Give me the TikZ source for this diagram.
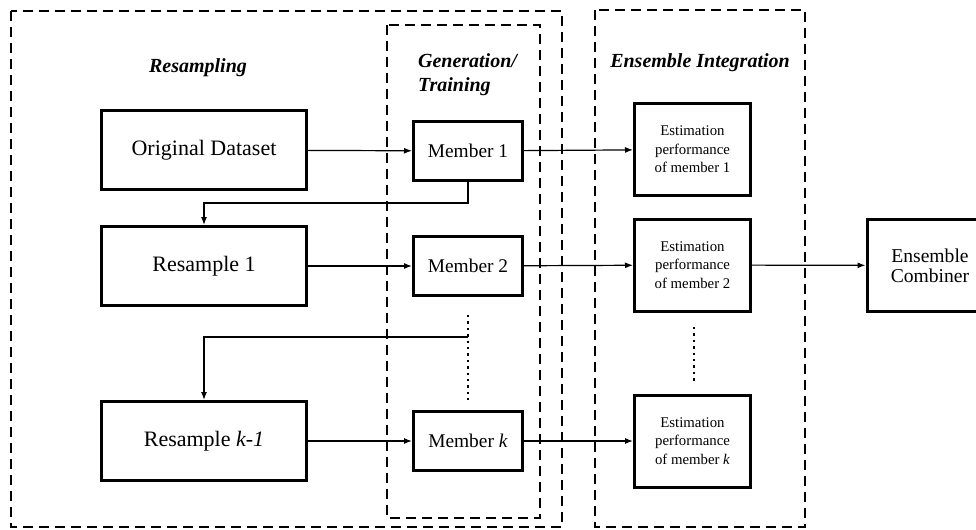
\documentclass[tikz,border=0pt]{standalone}
\usepackage{fontspec}
\setmainfont{Liberation Serif}
\usetikzlibrary{arrows.meta,positioning}

\begin{document}
\begin{tikzpicture}[
  x=0.5pt, y=-0.5pt,
  bigbox/.style={rectangle, draw, line width=1.5pt, minimum width=102.5pt, minimum height=39.5pt, inner sep=0pt, font=\fontsize{11}{13}\selectfont},
  membox/.style={rectangle, draw, line width=1.5pt, minimum width=54.5pt, minimum height=29.5pt, inner sep=0pt, font=\fontsize{9.7}{11}\selectfont},
  estbox/.style={rectangle, draw, line width=1.5pt, minimum width=58pt, minimum height=46pt, inner sep=0pt, align=center, font=\fontsize{7.4}{9.2}\selectfont},
  group/.style={draw, line width=0.6pt, dash pattern=on 5pt off 3pt},
  title/.style={font=\fontsize{10}{12}\selectfont\bfseries\itshape},
  link/.style={-{Latex[length=4pt,width=3pt]}, line width=0.6pt}
]
\useasboundingbox (0,0) rectangle (976,530);

% Dashed groups
\draw[group] (11,11) rectangle (562,527);
\draw[group] (387,25) rectangle (540,518);
\draw[group] (595,10) rectangle (805,527);

% Titles
\node[title] (tres) at (198,68) {Resampling};
\node[title, align=left, anchor=west] (tgen) at (411,75) {Generation/\\Training};
\node[title] (tens) at (700,63) {Ensemble Integration};

% Resampling
\node[bigbox] (orig) at (204,150) {Original Dataset};
\node[bigbox] (res1) at (204,266) {Resample 1};
\node[bigbox] (resk) at (204,441) {Resample \textit{k-1}};

% Members
\node[membox] (mem1) at (468,151) {Member 1};
\node[membox] (mem2) at (468,266) {Member 2};
\node[membox] (memk) at (468,441) {Member \textit{k}};

% Estimation
\node[estbox] (est1) at (692.5,149.5) {Estimation\\performance\\of member 1};
\node[estbox] (est2) at (692.5,265) {Estimation\\performance\\of member 2};
\node[estbox] (estk) at (692.5,441) {Estimation\\performance\\of member \textit{k}};

% Combiner
\node[estbox, minimum width=72pt, font=\fontsize{9.8}{9.8}\selectfont] (comb) at (939,265.5) {};
\node[align=center, inner sep=0pt, font=\fontsize{9.8}{9.8}\selectfont] (tcomb) at (930,265.5) {Ensemble\\Combiner};

% Dotted gaps
\draw[dotted, line width=1.2pt] (468,315) -- (468,400);
\draw[dotted, line width=1.2pt] (694,327) -- (694,382);
\coordinate (split) at (468,337);

% Arrows
\draw[link] (orig) -- (mem1);
\draw[link] (res1) -- (mem2);
\draw[link] (resk) -- (memk);
\draw[link] (mem1) -- (est1);
\draw[link] (mem2) -- (est2);
\draw[link] (memk) -- (estk);
\draw[link] (est2) -- (comb);
\draw[link] (mem1.south) -- ++(0,21) -| (res1.north);
\draw[link] (split) -| (resk.north);

\end{tikzpicture}
\end{document}
